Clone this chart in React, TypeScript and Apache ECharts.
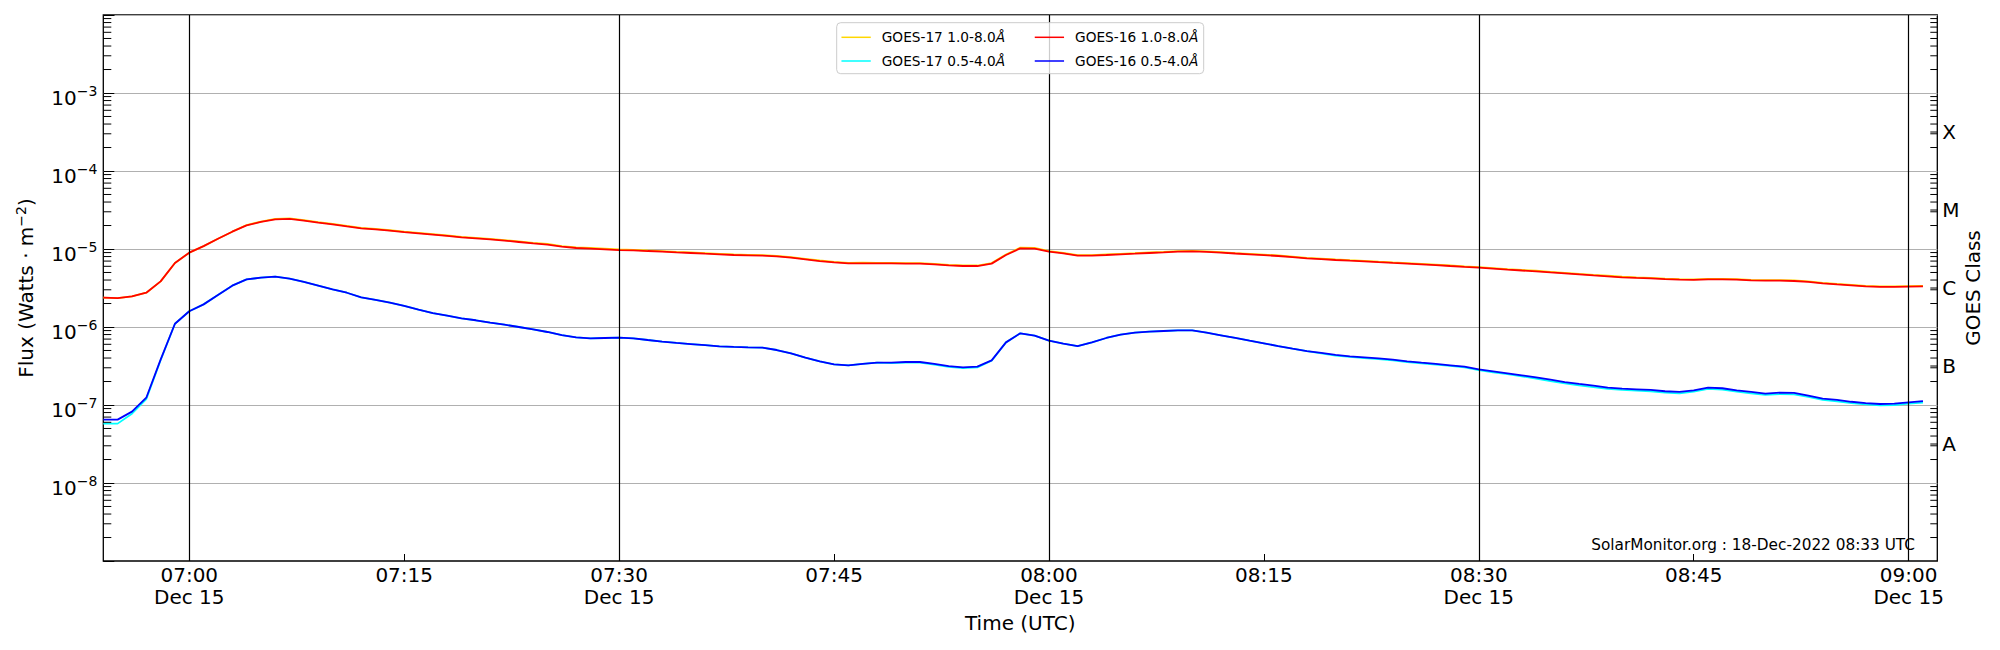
import React, { useEffect, useRef } from "react";
import * as echarts from "echarts";

// ---------- data ----------
const START_TIME = "2022-12-15T06:54:00Z";
const CADENCE_MIN = 1;
const X_MIN_TIME = "2022-12-15T06:54:00Z";
const X_MAX_TIME = "2022-12-15T09:02:00Z";
const DAY = "2022-12-15";
const DATE_LABEL = "Dec 15";
const TICK_TIMES = ["07:00", "07:15", "07:30", "07:45", "08:00", "08:15", "08:30", "08:45", "09:00"];
const HALF_HOUR_LINES = ["07:00", "07:30", "08:00", "08:30", "09:00"];
const Y_MIN = 1e-9;
const Y_MAX = 1e-2;
const MINOR_DECADES = [-9, -8, -7, -6, -5, -4, -3];
const MINOR_MULTIPLIERS = [2, 3, 4, 5, 6, 7, 8, 9];
const CLASS_LEVELS = [3.16e-8, 3.16e-7, 3.16e-6, 3.16e-5, 3.16e-4];
const CLASS_LABELS = ["A", "B", "C", "M", "X"];
const FOOTER = "SolarMonitor.org : 18-Dec-2022 08:33 UTC";

const NAME_G17_LONG = "GOES-17 1.0-8.0Å";
const NAME_G17_SHORT = "GOES-17 0.5-4.0Å";
const NAME_G16_LONG = "GOES-16 1.0-8.0Å";
const NAME_G16_SHORT = "GOES-16 0.5-4.0Å";

// GOES-17 1.0-8.0 Å (06:54 .. 09:01, 1 min cadence)
const G17_LONG = [
  2.38e-6, 2.35e-6, 2.47e-6, 2.75e-6, 3.85e-6, 6.61e-6, 8.97e-6, 1.09e-5, 1.355e-5, 1.667e-5,
  2.03e-5, 2.25e-5, 2.44e-5, 2.47e-5, 2.34e-5, 2.21e-5, 2.10e-5, 1.98e-5, 1.86e-5, 1.81e-5,
  1.74e-5, 1.67e-5, 1.61e-5, 1.55e-5, 1.49e-5, 1.43e-5, 1.39e-5, 1.35e-5, 1.30e-5, 1.25e-5,
  1.20e-5, 1.16e-5, 1.09e-5, 1.05e-5, 1.03e-5, 1.01e-5, 9.85e-6, 9.77e-6, 9.57e-6, 9.39e-6,
  9.20e-6, 9.03e-6, 8.85e-6, 8.68e-6, 8.51e-6, 8.43e-6, 8.35e-6, 8.17e-6, 7.86e-6, 7.49e-6,
  7.12e-6, 6.85e-6, 6.65e-6, 6.66e-6, 6.65e-6, 6.64e-6, 6.59e-6, 6.58e-6, 6.45e-6, 6.27e-6,
  6.14e-6, 6.14e-6, 6.59e-6, 8.51e-6, 1.04e-5, 1.03e-5, 9.39e-6, 8.92e-6, 8.34e-6, 8.34e-6,
  8.51e-6, 8.68e-6, 8.84e-6, 9.02e-6, 9.20e-6, 9.39e-6, 9.47e-6, 9.30e-6, 9.11e-6, 8.88e-6,
  8.68e-6, 8.47e-6, 8.25e-6, 7.98e-6, 7.70e-6, 7.52e-6, 7.34e-6, 7.19e-6, 7.05e-6, 6.88e-6,
  6.72e-6, 6.59e-6, 6.45e-6, 6.30e-6, 6.14e-6, 5.99e-6, 5.86e-6, 5.68e-6, 5.51e-6, 5.38e-6,
  5.26e-6, 5.10e-6, 4.95e-6, 4.80e-6, 4.66e-6, 4.54e-6, 4.41e-6, 4.33e-6, 4.27e-6, 4.18e-6,
  4.11e-6, 4.07e-6, 4.14e-6, 4.14e-6, 4.11e-6, 4.02e-6, 3.99e-6, 3.99e-6, 3.95e-6, 3.84e-6,
  3.68e-6, 3.57e-6, 3.47e-6, 3.37e-6, 3.31e-6, 3.31e-6, 3.34e-6, 3.37e-6,
];

// GOES-17 0.5-4.0 Å
const G17_SHORT = [
  5.77e-8, 5.77e-8, 7.74e-8, 1.19e-7, 3.75e-7, 1.10e-6, 1.59e-6, 1.95e-6, 2.57e-6, 3.39e-6,
  4.08e-6, 4.29e-6, 4.42e-6, 4.17e-6, 3.78e-6, 3.39e-6, 3.04e-6, 2.75e-6, 2.40e-6, 2.22e-6,
  2.05e-6, 1.86e-6, 1.67e-6, 1.51e-6, 1.40e-6, 1.29e-6, 1.22e-6, 1.14e-6, 1.07e-6, 1.00e-6,
  9.33e-7, 8.63e-7, 7.89e-7, 7.38e-7, 7.16e-7, 7.23e-7, 7.29e-7, 7.16e-7, 6.81e-7, 6.49e-7,
  6.24e-7, 6.05e-7, 5.87e-7, 5.65e-7, 5.55e-7, 5.48e-7, 5.43e-7, 5.07e-7, 4.59e-7, 4.05e-7,
  3.63e-7, 3.32e-7, 3.23e-7, 3.36e-7, 3.49e-7, 3.45e-7, 3.49e-7, 3.49e-7, 3.29e-7, 3.09e-7,
  2.98e-7, 3.04e-7, 3.70e-7, 6.35e-7, 8.30e-7, 7.74e-7, 6.68e-7, 6.11e-7, 5.70e-7, 6.35e-7,
  7.23e-7, 7.98e-7, 8.45e-7, 8.71e-7, 8.89e-7, 9.06e-7, 9.06e-7, 8.45e-7, 7.82e-7, 7.23e-7,
  6.68e-7, 6.18e-7, 5.70e-7, 5.27e-7, 4.90e-7, 4.60e-7, 4.30e-7, 4.13e-7, 4.00e-7, 3.88e-7,
  3.73e-7, 3.56e-7, 3.42e-7, 3.29e-7, 3.17e-7, 3.04e-7, 2.80e-7, 2.63e-7, 2.48e-7, 2.33e-7,
  2.18e-7, 2.03e-7, 1.90e-7, 1.79e-7, 1.70e-7, 1.61e-7, 1.56e-7, 1.53e-7, 1.50e-7, 1.44e-7,
  1.41e-7, 1.48e-7, 1.61e-7, 1.58e-7, 1.48e-7, 1.41e-7, 1.35e-7, 1.38e-7, 1.37e-7, 1.27e-7,
  1.16e-7, 1.11e-7, 1.06e-7, 1.02e-7, 0.99e-7, 1.00e-7, 1.04e-7, 1.07e-7,
];

// GOES-16 1.0-8.0 Å
const G16_LONG = [
  2.38e-6, 2.35e-6, 2.47e-6, 2.75e-6, 3.85e-6, 6.61e-6, 8.97e-6, 1.09e-5, 1.355e-5, 1.667e-5,
  2.01e-5, 2.22e-5, 2.40e-5, 2.43e-5, 2.31e-5, 2.18e-5, 2.07e-5, 1.95e-5, 1.84e-5, 1.79e-5,
  1.72e-5, 1.65e-5, 1.59e-5, 1.53e-5, 1.47e-5, 1.41e-5, 1.37e-5, 1.33e-5, 1.28e-5, 1.23e-5,
  1.18e-5, 1.14e-5, 1.07e-5, 1.03e-5, 1.01e-5, 9.91e-6, 9.70e-6, 9.62e-6, 9.42e-6, 9.25e-6,
  9.06e-6, 8.89e-6, 8.71e-6, 8.55e-6, 8.38e-6, 8.30e-6, 8.22e-6, 8.05e-6, 7.74e-6, 7.38e-6,
  7.01e-6, 6.75e-6, 6.55e-6, 6.56e-6, 6.55e-6, 6.54e-6, 6.49e-6, 6.48e-6, 6.35e-6, 6.18e-6,
  6.05e-6, 6.05e-6, 6.49e-6, 8.38e-6, 1.02e-5, 1.01e-5, 9.25e-6, 8.79e-6, 8.22e-6, 8.22e-6,
  8.38e-6, 8.55e-6, 8.71e-6, 8.89e-6, 9.06e-6, 9.25e-6, 9.33e-6, 9.16e-6, 8.97e-6, 8.75e-6,
  8.55e-6, 8.34e-6, 8.13e-6, 7.86e-6, 7.59e-6, 7.41e-6, 7.23e-6, 7.08e-6, 6.95e-6, 6.78e-6,
  6.62e-6, 6.49e-6, 6.35e-6, 6.21e-6, 6.05e-6, 5.90e-6, 5.77e-6, 5.60e-6, 5.43e-6, 5.30e-6,
  5.18e-6, 5.02e-6, 4.88e-6, 4.73e-6, 4.59e-6, 4.47e-6, 4.34e-6, 4.27e-6, 4.21e-6, 4.12e-6,
  4.05e-6, 4.01e-6, 4.08e-6, 4.08e-6, 4.05e-6, 3.96e-6, 3.93e-6, 3.93e-6, 3.89e-6, 3.78e-6,
  3.63e-6, 3.52e-6, 3.42e-6, 3.32e-6, 3.26e-6, 3.26e-6, 3.29e-6, 3.32e-6,
];

// GOES-16 0.5-4.0 Å
const G16_SHORT = [
  6.49e-8, 6.49e-8, 8.22e-8, 1.24e-7, 3.81e-7, 1.10e-6, 1.59e-6, 1.95e-6, 2.57e-6, 3.39e-6,
  4.08e-6, 4.29e-6, 4.42e-6, 4.17e-6, 3.78e-6, 3.39e-6, 3.04e-6, 2.75e-6, 2.40e-6, 2.22e-6,
  2.05e-6, 1.86e-6, 1.67e-6, 1.51e-6, 1.40e-6, 1.29e-6, 1.22e-6, 1.14e-6, 1.07e-6, 1.00e-6,
  9.33e-7, 8.63e-7, 7.89e-7, 7.38e-7, 7.16e-7, 7.23e-7, 7.29e-7, 7.16e-7, 6.81e-7, 6.49e-7,
  6.24e-7, 6.05e-7, 5.87e-7, 5.65e-7, 5.55e-7, 5.48e-7, 5.43e-7, 5.07e-7, 4.59e-7, 4.05e-7,
  3.63e-7, 3.32e-7, 3.23e-7, 3.36e-7, 3.49e-7, 3.49e-7, 3.56e-7, 3.56e-7, 3.36e-7, 3.16e-7,
  3.04e-7, 3.10e-7, 3.74e-7, 6.35e-7, 8.30e-7, 7.74e-7, 6.68e-7, 6.11e-7, 5.70e-7, 6.35e-7,
  7.23e-7, 7.98e-7, 8.45e-7, 8.71e-7, 8.89e-7, 9.06e-7, 9.06e-7, 8.45e-7, 7.82e-7, 7.23e-7,
  6.68e-7, 6.18e-7, 5.70e-7, 5.27e-7, 4.92e-7, 4.65e-7, 4.38e-7, 4.21e-7, 4.08e-7, 3.96e-7,
  3.81e-7, 3.63e-7, 3.49e-7, 3.36e-7, 3.23e-7, 3.10e-7, 2.86e-7, 2.70e-7, 2.55e-7, 2.40e-7,
  2.26e-7, 2.11e-7, 1.97e-7, 1.86e-7, 1.77e-7, 1.67e-7, 1.62e-7, 1.59e-7, 1.56e-7, 1.50e-7,
  1.47e-7, 1.54e-7, 1.67e-7, 1.64e-7, 1.54e-7, 1.47e-7, 1.40e-7, 1.44e-7, 1.43e-7, 1.32e-7,
  1.21e-7, 1.16e-7, 1.10e-7, 1.06e-7, 1.03e-7, 1.04e-7, 1.08e-7, 1.12e-7,
];

const COLORS = {
  g17Long: "#FFD700",
  g17Short: "#00FFFF",
  g16Long: "#FF0000",
  g16Short: "#0000FF",
};

// ---------- helpers ----------
const FONT = "DejaVu Sans";
const startMs = Date.parse(START_TIME);
const toMs = (hhmm: string) => Date.parse(`${DAY}T${hhmm}:00Z`);
const pad = (n: number) => (n < 10 ? "0" + n : "" + n);
const toPairs = (vals: number[]) => vals.map((v, i) => [startMs + i * CADENCE_MIN * 60000, v]);

const minorTicks: number[] = [];
MINOR_DECADES.forEach((e) => MINOR_MULTIPLIERS.forEach((m) => minorTicks.push(m * Math.pow(10, e))));

export default function App() {
  const ref = useRef<HTMLDivElement>(null);

  useEffect(() => {
    if (!ref.current) return;
    const chart = echarts.init(ref.current, null, { renderer: "svg" });
    const xMin = Date.parse(X_MIN_TIME);
    const xMax = Date.parse(X_MAX_TIME);
    const tickMs = TICK_TIMES.map(toMs);

    const lineSeries = (name: string, vals: number[], color: string, extra: any = {}) => ({
      name,
      type: "line",
      data: toPairs(vals),
      symbol: "none",
      showSymbol: false,
      smooth: false,
      lineStyle: { color, width: 1.8 },
      itemStyle: { color },
      xAxisIndex: 0,
      yAxisIndex: 0,
      silent: true,
      z: 3,
      ...extra,
    });

    const legendBase = {
      orient: "vertical",
      top: 30.3,
      itemWidth: 29.3,
      itemHeight: 14,
      itemGap: 9.7,
      padding: 0,
      z: 20,
      selectedMode: false,
      itemStyle: { opacity: 0, borderWidth: 0 },
      lineStyle: { width: 1.5 },
      formatter: (n: string) => n.replace("Å", "{i|Å}"),
      textStyle: {
        fontFamily: FONT,
        fontSize: 13.7,
        color: "#000",
        lineHeight: 14,
        padding: [0, 0, 0, 6],
        rich: { i: { fontFamily: FONT, fontSize: 13.7, fontStyle: "italic", color: "#000" } },
      },
    };

    const option: any = {
      animation: false,
      backgroundColor: "#fff",
      grid: {
        left: 103.3,
        right: 62.7,
        top: 15,
        bottom: 89,
        show: true,
        borderColor: "#000",
        borderWidth: 1.3,
        backgroundColor: "transparent",
        containLabel: false,
        outerBoundsMode: "none",
      },
      legend: [
        { ...legendBase, left: 840.7, data: [NAME_G17_LONG, NAME_G17_SHORT] },
        { ...legendBase, left: 1034, data: [NAME_G16_LONG, NAME_G16_SHORT] },
      ],
      xAxis: {
        type: "value",
        min: xMin,
        max: xMax,
        name: "Time (UTC)",
        nameLocation: "middle",
        nameGap: 50,
        nameMoveOverlap: false,
        nameTextStyle: { fontFamily: FONT, fontSize: 20, color: "#000", lineHeight: 24 },
        axisLine: { show: false },
        axisTick: {
          show: true,
          inside: true,
          length: 7,
          customValues: tickMs,
          lineStyle: { color: "#000", width: 1 },
        },
        splitLine: { show: false },
        axisLabel: {
          customValues: tickMs,
          margin: 3,
          fontFamily: FONT,
          fontSize: 20,
          lineHeight: 22,
          color: "#000",
          formatter: (v: number) => {
            const d = new Date(v);
            const hh = pad(d.getUTCHours());
            const mm = d.getUTCMinutes();
            const s = `${hh}:${pad(mm)}`;
            return mm === 0 || mm === 30 ? `${s}\n${DATE_LABEL}` : s;
          },
        },
      },
      yAxis: [
        {
          type: "log",
          logBase: 10,
          min: Y_MIN,
          max: Y_MAX,
          splitNumber: 7,
          position: "left",
          name: "Flux (Watts · m{s|−2})",
          nameLocation: "middle",
          nameGap: 65,
          nameRotate: 90,
          nameMoveOverlap: false,
          nameTextStyle: {
            fontFamily: FONT,
            fontSize: 20,
            color: "#000",
            lineHeight: 24,
            rich: { s: { fontFamily: FONT, fontSize: 14, lineHeight: 12, verticalAlign: "top", color: "#000" } },
          },
          axisLine: { show: false },
          axisTick: { show: true, inside: true, length: 11, lineStyle: { color: "#000", width: 1 } },
          minorTick: { show: false },
          splitLine: {
            show: true,
            showMinLine: false,
            showMaxLine: false,
            lineStyle: { color: "#b0b0b0", width: 1 },
          },
          axisLabel: {
            margin: 6,
            padding: [5, 0, 0, 0],
            color: "#000",
            formatter: (v: number) => {
              const e = Math.round(Math.log10(v));
              if (e <= -9 || e >= -2) return "";
              return `{b|10}{s|−${-e}}`;
            },
            rich: {
              b: { fontFamily: FONT, fontSize: 20, lineHeight: 24, verticalAlign: "bottom", color: "#000" },
              s: { fontFamily: FONT, fontSize: 14, lineHeight: 12, verticalAlign: "top", color: "#000" },
            },
          },
        },
        {
          type: "log",
          logBase: 10,
          min: Y_MIN,
          max: Y_MAX,
          position: "right",
          name: "GOES Class",
          nameLocation: "middle",
          nameGap: 24,
          nameRotate: 90,
          nameMoveOverlap: false,
          nameTextStyle: { fontFamily: FONT, fontSize: 20, color: "#000", lineHeight: 24 },
          axisLine: { show: false },
          axisTick: { show: false },
          axisLabel: { show: false },
          splitLine: { show: false },
        },
      ],
      graphic: [
        {
          type: "rect",
          z: 10,
          silent: true,
          shape: { x: 836.7, y: 22.7, width: 367, height: 51, r: 4 },
          style: { fill: "rgba(255,255,255,0.8)", stroke: "#cccccc", lineWidth: 1 },
        },
        {
          type: "text",
          z: 20,
          silent: true,
          x: 1915,
          y: 545,
          style: {
            text: FOOTER,
            fontFamily: FONT,
            fontSize: 15.3,
            fill: "#000",
            align: "right",
            verticalAlign: "middle",
            textAlign: "right",
            textVerticalAlign: "middle",
          },
        },
      ],
      series: [
        lineSeries(NAME_G17_LONG, G17_LONG, COLORS.g17Long, {
          markLine: {
            silent: true,
            symbol: ["none", "none"],
            label: { show: false },
            lineStyle: { color: "#000", width: 1.2, type: "solid" },
            emphasis: { disabled: true },
            data: HALF_HOUR_LINES.map((t) => ({ xAxis: toMs(t) })),
          },
        }),
        lineSeries(NAME_G17_SHORT, G17_SHORT, COLORS.g17Short),
        lineSeries(NAME_G16_LONG, G16_LONG, COLORS.g16Long),
        lineSeries(NAME_G16_SHORT, G16_SHORT, COLORS.g16Short),
        {
          name: "minorTicks",
          type: "custom",
          silent: true,
          z: 5,
          xAxisIndex: 0,
          yAxisIndex: 0,
          data: minorTicks.map((v) => [xMin, v]),
          encode: { x: 0, y: 1 },
          renderItem: (params: any, api: any) => {
            const cs = params.coordSys;
            const y = api.coord([api.value(0), api.value(1)])[1];
            const st = { stroke: "#000", lineWidth: 1 };
            return {
              type: "group",
              children: [
                { type: "line", shape: { x1: cs.x, y1: y, x2: cs.x + 8, y2: y }, style: st },
                { type: "line", shape: { x1: cs.x + cs.width - 7, y1: y, x2: cs.x + cs.width, y2: y }, style: st },
              ],
            };
          },
        },
        {
          name: "goesClass",
          type: "custom",
          silent: true,
          z: 5,
          clip: false,
          xAxisIndex: 0,
          yAxisIndex: 0,
          data: CLASS_LEVELS.map((v) => [xMax, v]),
          encode: { x: 0, y: 1 },
          renderItem: (params: any, api: any) => {
            const cs = params.coordSys;
            const y = api.coord([api.value(0), api.value(1)])[1];
            const right = cs.x + cs.width;
            return {
              type: "group",
              children: [
                {
                  type: "line",
                  shape: { x1: right - 7, y1: y, x2: right, y2: y },
                  style: { stroke: "#000", lineWidth: 1 },
                },
                {
                  type: "text",
                  x: right + 5,
                  y,
                  style: {
                    text: CLASS_LABELS[params.dataIndex],
                    fontFamily: FONT,
                    fontSize: 20,
                    fill: "#000",
                    align: "left",
                    verticalAlign: "middle",
                  },
                },
              ],
            };
          },
        },
      ],
    };

    chart.setOption(option);
    return () => chart.dispose();
  }, []);

  return (
    <div
      ref={ref}
      style={{ position: "fixed", left: 0, top: 0, width: "2000px", height: "650px", background: "#fff" }}
    />
  );
}
